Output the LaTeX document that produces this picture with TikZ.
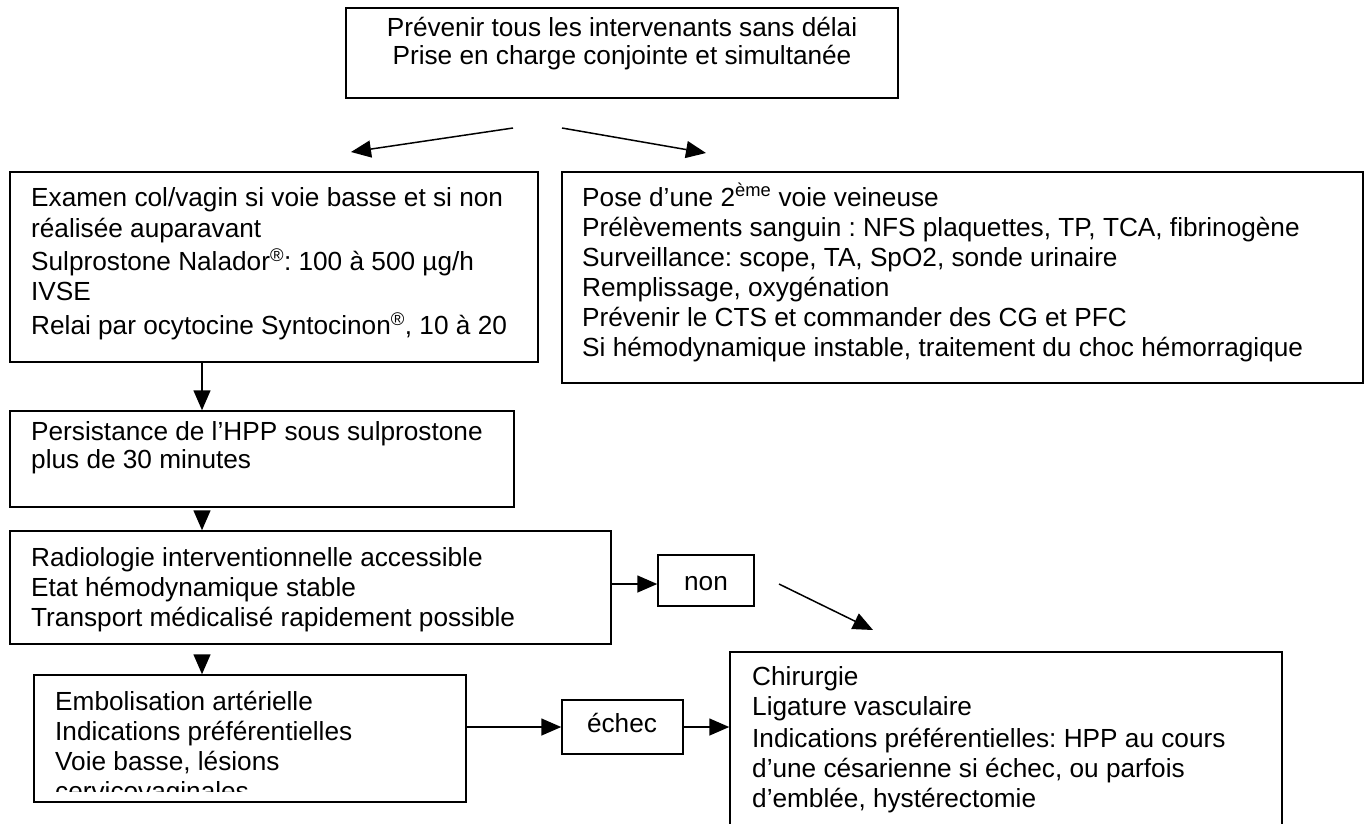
\documentclass[tikz,border=0pt]{standalone}
\usepackage{fontspec}
\setmainfont{Liberation Sans}
\usetikzlibrary{arrows.meta,fit}
\frenchspacing
\begin{document}
\begin{tikzpicture}[x=1pt,y=-1pt,
  box/.style={draw, line width=1.5pt, inner sep=0pt},
  txt/.style={inner sep=0pt, anchor=base west, font=\fontsize{26.2}{30}\selectfont\frenchspacing},
  ctxt/.style={inner sep=0pt, anchor=base, font=\fontsize{26.2}{30}\selectfont\frenchspacing},
  arr/.style={line width=1.5pt, -{Triangle[length=20pt,width=17pt]}}]
\useasboundingbox (0,0) rectangle (1372,823);
\clip (0,0) rectangle (1372,823);
% boxes
\node[box, fit={(346,8) (898,98)}] (T) {};
\node[box, fit={(10,172) (538,362)}] (A) {};
\node[box, fit={(562,172) (1363,383)}] (B) {};
\node[box, fit={(10,411) (514,507)}] (C) {};
\node[box, fit={(10,531) (611,644)}] (D) {};
\node[box, fit={(658,555) (754,606)}] (N) {};
\node[box, fit={(34,675) (466,802)}] (E) {};
\node[box, fit={(562,700) (683,754)}] (F) {};
\node[box, fit={(730,652) (1282,860)}] (G) {};
% texts
\node[ctxt] (Tt) at (622,36) {\begin{tabular}[t]{@{}c@{}}Prévenir tous les intervenants sans délai\\[-2pt] Prise en charge conjointe et simultanée\end{tabular}};
\node[txt] (At) at (31,206) {\begin{tabular}[t]{@{}l@{}}Examen col/vagin si voie basse et si non\\[1pt]
réalisée auparavant\\[3pt]
Sulprostone Nalador\textsuperscript{®}: 100 à 500 µg/h\\
IVSE\\[3pt]
Relai par ocytocine Syntocinon\textsuperscript{®}, 10 à 20\end{tabular}};
\node[txt] (Bt) at (582,206) {\begin{tabular}[t]{@{}l@{}}Pose d’une 2\textsuperscript{ème} voie veineuse\\
Prélèvements sanguin : NFS plaquettes, TP, TCA, fibrinogène\\
Surveillance: scope, TA, SpO2, sonde urinaire\\
Remplissage, oxygénation\\
Prévenir le CTS et commander des CG et PFC\\
Si hémodynamique instable, traitement du choc hémorragique\end{tabular}};
\node[txt] (Ct) at (31,440) {\begin{tabular}[t]{@{}l@{}}Persistance de l’HPP sous sulprostone\\[-2pt]
plus de 30 minutes\end{tabular}};
\node[txt] (Dt) at (31,566) {\begin{tabular}[t]{@{}l@{}}Radiologie interventionnelle accessible\\
Etat hémodynamique stable\\
Transport médicalisé rapidement possible\end{tabular}};
\node[ctxt] (Nt) at (706,590) {non};
\begin{scope}
\clip (36,677) rectangle (464,791);
\node[txt] (Et) at (55,710) {\begin{tabular}[t]{@{}l@{}}Embolisation artérielle\\
Indications préférentielles\\
Voie basse, lésions\\
cervicovaginales\end{tabular}};
\end{scope}
\node[ctxt] (Ft) at (622,732) {échec};
\node[txt] (Gt) at (752,685) {\begin{tabular}[t]{@{}l@{}}Chirurgie\\
Ligature vasculaire\\[2pt]
Indications préférentielles: HPP au cours\\
d’une césarienne si échec, ou parfois\\
d’emblée, hystérectomie\end{tabular}};
% connectors
\coordinate (tl1) at (513,128); \coordinate (tl2) at (351,152);
\coordinate (tr1) at (562,128); \coordinate (tr2) at (706,153);
\draw[arr] (tl1) -- (tl2);
\draw[arr] (tr1) -- (tr2);
\coordinate (ax) at (202,0);
\draw[arr] (A.south -| ax) -- (C.north -| ax);
\coordinate (cd1) at (202,512);
\draw[arr] (cd1) -- (D.north -| ax);
\coordinate (de1) at (202,657);
\draw[arr] (de1) -- (E.north -| ax);
\coordinate (dny) at (0,584);
\draw[arr] (D.east |- dny) -- (N.west |- dny);
\coordinate (ng1) at (779,584); \coordinate (ng2) at (873,630);
\draw[arr] (ng1) -- (ng2);
\draw[arr] (E.east |- F.west) -- (F.west);
\draw[arr] (F.east) -- (G.west |- F.east);
\end{tikzpicture}
\end{document}
